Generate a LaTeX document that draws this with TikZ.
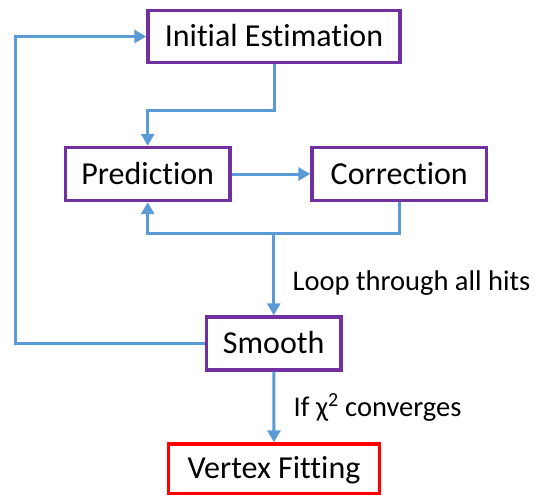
\documentclass[tikz,border=0pt]{standalone}
\usepackage{fontspec}
\setmainfont{Carlito}[Ligatures=NoCommon]
\usetikzlibrary{arrows.meta}
\definecolor{boxpurple}{HTML}{7030A0}
\definecolor{linkblue}{HTML}{5B9BD5}
\definecolor{boxred}{HTML}{FF0000}
\begin{document}
\begin{tikzpicture}[x=1pt,y=-1pt,
  stepbox/.style={draw=boxpurple, line width=3.4pt, fill=white, inner sep=0pt,
    font=\fontsize{32}{37}\selectfont, text height=20.2pt, text depth=0pt},
  link/.style={draw=linkblue, line width=3pt},
  linkarrow/.style={link, -{Triangle[length=12pt,width=13pt]}},
  lbl/.style={inner sep=0pt, font=\fontsize{28.5}{33}\selectfont, anchor=base west}]
\path[use as bounding box] (0,0) rectangle (536,496);

\node[stepbox, minimum width=252pt, minimum height=52pt] (ie) at (274,36.5) {Initial Estimation};
\node[stepbox, minimum width=164.5pt, minimum height=53pt] (pred) at (147.75,174) {Prediction};
\node[stepbox, minimum width=174.5pt, minimum height=53pt] (corr) at (399.25,174) {Correction};
\node[stepbox, minimum width=134.5pt, minimum height=53pt] (smooth) at (273.75,343.5) {Smooth};
\node[stepbox, draw=boxred, minimum width=210.5pt, minimum height=49.5pt] (vf) at (274,468.75) {Vertex Fitting};

\coordinate (iebend) at (274,110);
\coordinate (loopright) at (401,233);
\coordinate (loopjoin) at (273.75,233);
\coordinate (leftturn) at (15,343.5);

\draw[linkarrow] (ie.south) -- (iebend) -| (pred.north);
\draw[linkarrow] (pred.east) -- (corr.west);
\draw[linkarrow] (corr.south) -- (corr.south |- loopright) -| (pred.south);
\draw[linkarrow] (loopjoin) -- (smooth.north);
\draw[linkarrow] (smooth.west) -- (leftturn) |- (ie.west);
\draw[linkarrow] (smooth.south) -- (vf.north);

\node[lbl] (looplbl) at (292.5,290) {Loop through all hits};
\node[lbl] (convlbl) at (293.5,416) {If χ\textsuperscript{2} converges};
\end{tikzpicture}
\end{document}
